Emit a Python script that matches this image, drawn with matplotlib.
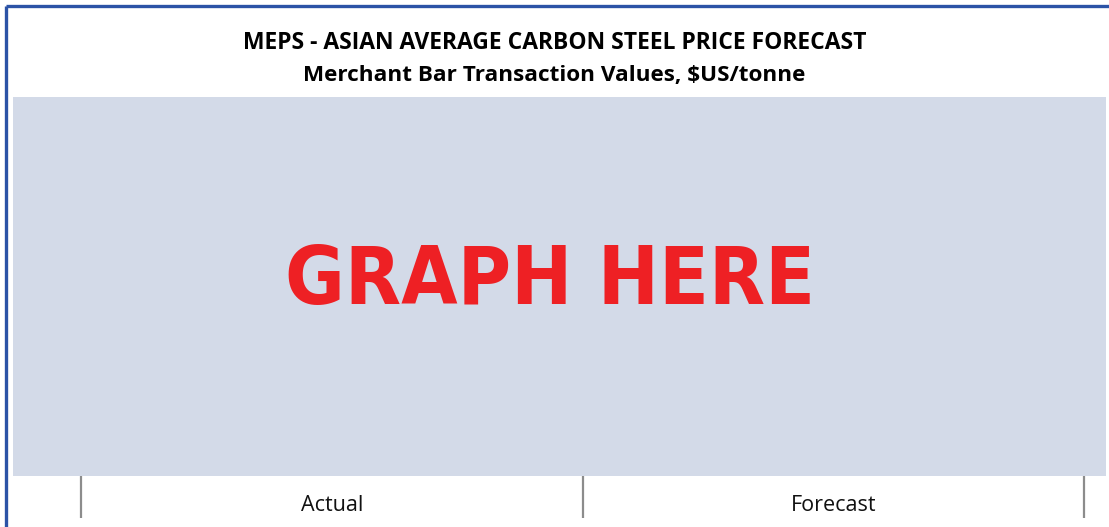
import matplotlib
matplotlib.use('Agg')
import matplotlib.pyplot as plt
from matplotlib import font_manager
from matplotlib.lines import Line2D

# chart texts
title_line1 = 'MEPS - ASIAN AVERAGE CARBON STEEL PRICE FORECAST'
title_line2 = 'Merchant Bar Transaction Values, $US/tonne'
placeholder = 'GRAPH HERE'
periods = ['Actual', 'Forecast']
period_bounds = [0, 1, 2]

W, H = 1109, 527
fig = plt.figure(figsize=(W / 100, H / 100), dpi=100)
fig.patch.set_facecolor('white')


def fit_width(txt, target_px):
    # resize a text so its drawn width is close to target_px
    r = fig.canvas.get_renderer()
    for _ in range(3):
        w = txt.get_window_extent(renderer=r).width
        txt.set_fontsize(txt.get_fontsize() * target_px / w)


def narrow_font():
    # look for a condensed / narrow bold face, else None
    best = None
    for f in font_manager.fontManager.ttflist:
        nm = f.name.lower()
        if 'condensed' in nm or 'narrow' in nm or f.stretch in ('condensed', 'semi-condensed', 'extra-condensed'):
            score = 0 if (f.weight in ('bold', 700) or 'bold' in str(f.fname).lower()) else 1
            if best is None or score < best[0]:
                best = (score, f.fname)
    return best[1] if best else None


# panel area (pixels: x 13..1106, y 97..476)
ax = fig.add_axes([13 / W, (H - 476) / H, (1106 - 13) / W, (476 - 97) / H])
ax.set_facecolor('#d3dae8')
for s in ax.spines.values():
    s.set_visible(False)

# x mapping: tick at px 81 -> 0, 583 -> 1, 1084 -> 2
unit = (1084 - 81) / 2
ax.set_xlim((13 - 81) / unit, (1106 - 81) / unit)
ax.set_ylim(0, 1)
ax.set_yticks([])

centers = [(period_bounds[i] + period_bounds[i + 1]) / 2 for i in range(len(periods))]
ax.set_xticks(centers)
ax.set_xticklabels(periods, fontsize=15.5, family='Open Sans', color='#111111')
ax.tick_params(axis='x', which='major', length=0, pad=14)
ax.set_xticks(period_bounds, minor=True)
ax.tick_params(axis='x', which='minor', length=30, width=1.6, color='#8c8c8c', direction='out')

# placeholder text, centred a little left of the panel middle
px_x = (550 - 13) / (1106 - 13)
px_y = (476 - 304) / (476 - 97)
fn = narrow_font()
if fn:
    ph = ax.text(px_x, px_y, placeholder, transform=ax.transAxes, ha='center',
                 va='baseline', fontsize=80, color='#ee2024',
                 fontproperties=font_manager.FontProperties(fname=fn))
else:
    ph = ax.text(px_x, px_y, placeholder, transform=ax.transAxes, ha='center',
                 va='baseline', fontsize=80, fontweight='bold', color='#ee2024', family='Roboto')
fit_width(ph, 530)

# titles
t1 = fig.text(0.5, 1 - 49 / H, title_line1, ha='center', va='baseline',
              fontsize=13, fontweight='bold', family='Open Sans', color='black')
t2 = fig.text(0.5, 1 - 81 / H, title_line2, ha='center', va='baseline',
              fontsize=13, fontweight='bold', family='Open Sans', color='black')
fit_width(t1, 625)
fit_width(t2, 502)

# blue frame (top and left)
fig.add_artist(Line2D([5.5 / W, 1], [1 - 5.5 / H, 1 - 5.5 / H], transform=fig.transFigure,
                      color='#2c53a6', linewidth=2.4, solid_capstyle='butt'))
fig.add_artist(Line2D([5.5 / W, 5.5 / W], [0, 1 - 5.5 / H], transform=fig.transFigure,
                      color='#2c53a6', linewidth=2.4, solid_capstyle='butt'))

fig.savefig('out.png', dpi=100)
